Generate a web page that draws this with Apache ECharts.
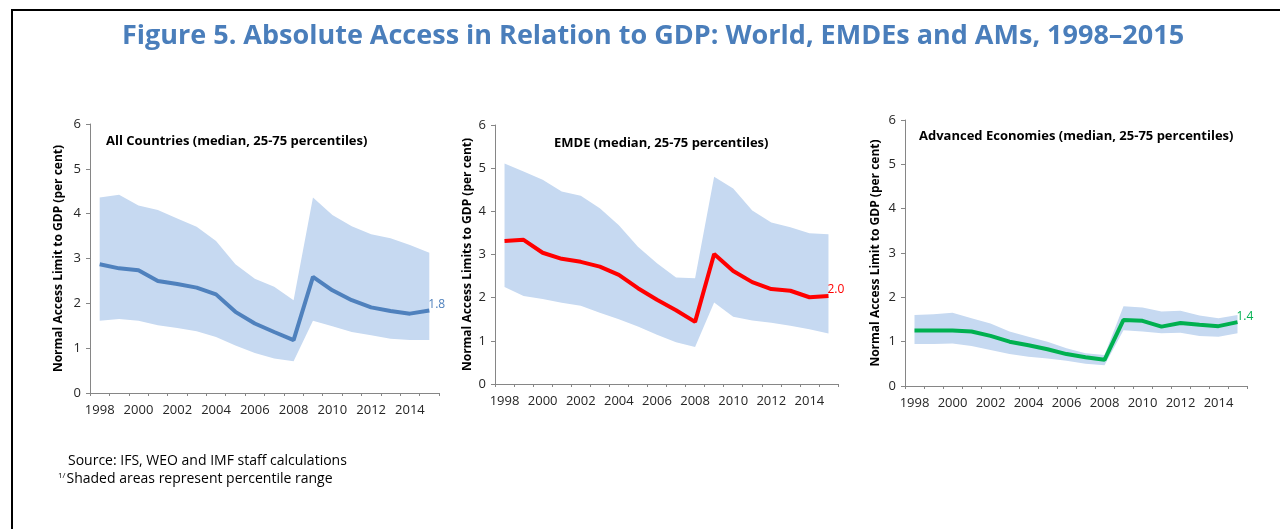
<!DOCTYPE html>
<html>
<head>
<meta charset="utf-8">
<script src="https://cdn.jsdelivr.net/npm/echarts@6/dist/echarts.min.js"></script>
<style>
  html, body { margin: 0; padding: 0; background: #fff; }
  #chart { width: 1280px; height: 529px; }
</style>
</head>
<body>
<div id="chart"></div>
<script>
const years = ['1998','1999','2000','2001','2002','2003','2004','2005','2006','2007','2008','2009','2010','2011','2012','2013','2014','2015'];

// All countries
const allMedian = [2.87, 2.78, 2.74, 2.50, 2.43, 2.35, 2.20, 1.81, 1.55, 1.36, 1.18, 2.59, 2.29, 2.07, 1.91, 1.83, 1.77, 1.84];
const allUpper  = [4.36, 4.42, 4.18, 4.08, 3.89, 3.71, 3.39, 2.87, 2.55, 2.37, 2.07, 4.36, 3.97, 3.72, 3.54, 3.45, 3.30, 3.13];
const allLower  = [1.61, 1.65, 1.61, 1.51, 1.45, 1.38, 1.25, 1.06, 0.89, 0.77, 0.71, 1.61, 1.49, 1.36, 1.29, 1.21, 1.18, 1.18];

// EMDE
const emdeMedian = [3.31, 3.34, 3.04, 2.90, 2.83, 2.72, 2.53, 2.22, 1.95, 1.71, 1.44, 3.01, 2.62, 2.36, 2.20, 2.16, 2.01, 2.04];
const emdeUpper  = [5.11, 4.92, 4.73, 4.46, 4.36, 4.07, 3.68, 3.18, 2.80, 2.47, 2.45, 4.80, 4.53, 4.02, 3.74, 3.63, 3.49, 3.47];
const emdeLower  = [2.25, 2.04, 1.97, 1.88, 1.81, 1.65, 1.50, 1.33, 1.14, 0.97, 0.86, 1.89, 1.56, 1.47, 1.42, 1.35, 1.27, 1.17];

// Advanced economies
const amMedian = [1.25, 1.25, 1.25, 1.23, 1.13, 1.00, 0.92, 0.83, 0.72, 0.65, 0.59, 1.49, 1.47, 1.34, 1.42, 1.38, 1.35, 1.44];
const amUpper  = [1.60, 1.62, 1.65, 1.53, 1.41, 1.23, 1.11, 1.00, 0.85, 0.74, 0.70, 1.80, 1.77, 1.68, 1.70, 1.59, 1.53, 1.60];
const amLower  = [0.95, 0.95, 0.96, 0.90, 0.81, 0.72, 0.66, 0.62, 0.57, 0.50, 0.47, 1.26, 1.23, 1.19, 1.20, 1.13, 1.11, 1.19];

const panelTitles = ['All Countries (median, 25-75 percentiles)', 'EMDE (median, 25-75 percentiles)', 'Advanced Economies (median, 25-75 percentiles)'];
const yNames = ['Normal Access Limit to GDP (per cent)', 'Normal Access Limits to GDP (per cent)', 'Normal Access Limit to GDP (per cent)'];
const lineColors = ['#4f81bd', '#ff0000', '#00b050'];
const BAND = '#c6d9f1';
const FONT = "'Open Sans', sans-serif";

const panels = [
  { median: allMedian, upper: allUpper, lower: allLower, grid: { left: 90, top: 124, width: 349, height: 269 }, nameGap: 25 },
  { median: emdeMedian, upper: emdeUpper, lower: emdeLower, grid: { left: 495, top: 125, width: 343, height: 259 }, nameGap: 21 },
  { median: amMedian, upper: amUpper, lower: amLower, grid: { left: 905, top: 120, width: 342, height: 266 }, nameGap: 23 },
];

const grids = [], xAxes = [], yAxes = [], series = [];

panels.forEach((p, i) => {
  grids.push(p.grid);
  xAxes.push({
    type: 'category',
    gridIndex: i,
    data: years,
    boundaryGap: true,
    axisLine: { lineStyle: { color: '#868686', width: 1 } },
    axisTick: { show: true, interval: 0, length: 3, lineStyle: { color: '#868686' } },
    axisLabel: { interval: 1, color: '#262626', fontSize: 13, fontFamily: FONT, margin: 11 },
    splitLine: { show: false },
  });
  yAxes.push({
    type: 'value',
    gridIndex: i,
    min: 0,
    max: 6,
    interval: 1,
    name: yNames[i],
    nameLocation: 'middle',
    nameGap: p.nameGap,
    nameTextStyle: { color: '#000', fontSize: 12, fontWeight: 'bold', fontFamily: FONT },
    axisLine: { show: true, lineStyle: { color: '#868686', width: 1 } },
    axisTick: { show: true, length: 4, lineStyle: { color: '#868686' } },
    axisLabel: { color: '#262626', fontSize: 13, fontFamily: FONT, margin: 9 },
    splitLine: { show: false },
  });

  series.push({
    type: 'line',
    xAxisIndex: i,
    yAxisIndex: i,
    stack: 'band' + i,
    data: p.lower,
    symbol: 'none',
    lineStyle: { opacity: 0 },
    silent: true,
  });
  series.push({
    type: 'line',
    xAxisIndex: i,
    yAxisIndex: i,
    stack: 'band' + i,
    data: p.upper.map((u, k) => +(u - p.lower[k]).toFixed(3)),
    symbol: 'none',
    lineStyle: { opacity: 0 },
    areaStyle: { color: BAND, opacity: 1 },
    silent: true,
  });

  series.push({
    type: 'line',
    xAxisIndex: i,
    yAxisIndex: i,
    data: p.median,
    symbol: 'none',
    lineStyle: { color: lineColors[i], width: 4 },
    endLabel: {
      show: true,
      distance: 1,
      offset: [-2, -6],
      color: lineColors[i],
      fontSize: 12,
      fontFamily: FONT,
      formatter: (d) => Number(d.value).toFixed(1),
    },
    z: 5,
  });
});

const chart = echarts.init(document.getElementById('chart'), null, { renderer: 'canvas' });
chart.setOption({
  backgroundColor: '#fff',
  animation: false,
  title: [
    {
      text: 'Figure 5. Absolute Access in Relation to GDP: World, EMDEs and AMs, 1998–2015',
      left: 648, top: 18, textAlign: 'center',
      textStyle: { color: '#4a7ebb', fontSize: 27, fontWeight: 'bold', fontFamily: FONT },
    },
    { text: panelTitles[0], left: 101, top: 130, textStyle: { color: '#000', fontSize: 13, fontWeight: 'bold', fontFamily: FONT } },
    { text: panelTitles[1], left: 549, top: 132, textStyle: { color: '#000', fontSize: 13, fontWeight: 'bold', fontFamily: FONT } },
    { text: panelTitles[2], left: 914, top: 125, textStyle: { color: '#000', fontSize: 13, fontWeight: 'bold', fontFamily: FONT } },
  ],
  grid: grids,
  xAxis: xAxes,
  yAxis: yAxes,
  series: series,
  graphic: [
    { type: 'line', shape: { x1: 12, y1: 10, x2: 1280, y2: 10 }, style: { stroke: '#000', lineWidth: 2 } },
    { type: 'line', shape: { x1: 12, y1: 9, x2: 12, y2: 529 }, style: { stroke: '#000', lineWidth: 2 } },
    {
      type: 'text', left: 68, top: 454,
      style: { text: 'Source: IFS, WEO and IMF staff calculations', fill: '#000', font: "14px 'Open Sans', sans-serif" },
    },
    {
      type: 'text', left: 58, top: 472,
      style: {
        text: '{sup|1/}{t|Shaded areas represent percentile range}',
        rich: {
          sup: { fontSize: 8, fill: '#000', verticalAlign: 'top', padding: [0, 1, 6, 0], fontFamily: FONT },
          t: { fontSize: 14, fill: '#000', fontFamily: FONT },
        },
      },
    },
  ],
});
</script>
</body>
</html>
